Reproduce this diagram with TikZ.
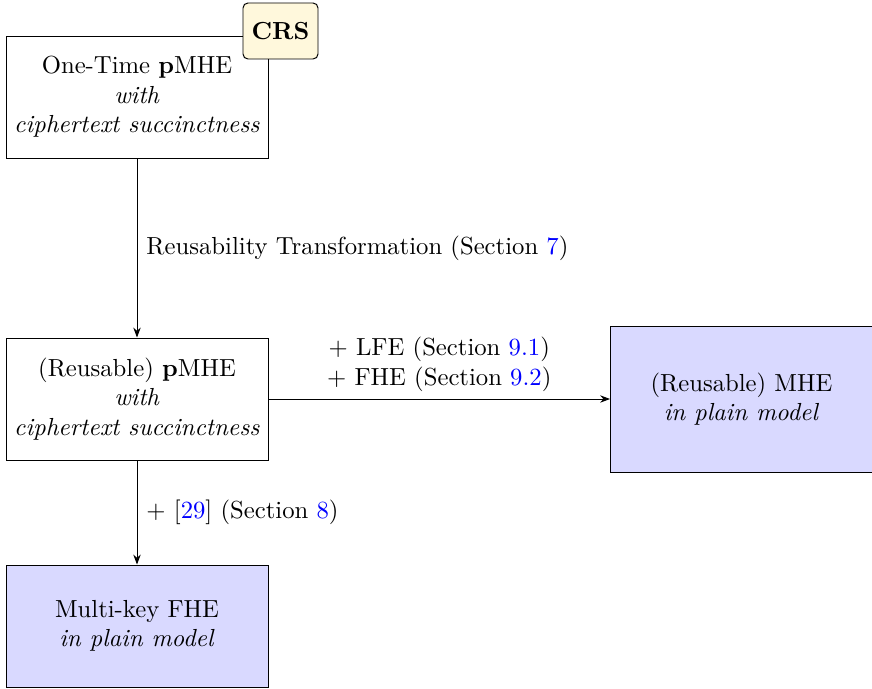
\documentclass[tikz,border=0pt]{standalone}
\usetikzlibrary{arrows.meta}
\definecolor{linkblue}{rgb}{0,0,1}
\definecolor{boxblue}{RGB}{217,217,255}
\definecolor{crsyellow}{RGB}{255,248,220}
\newcommand{\lnk}[1]{\textcolor{linkblue}{#1}}
\tikzset{
  box/.style={draw, line width=0.4pt, align=center, inner sep=0pt},
  plainbox/.style={box, minimum width={262*0.405pt}, minimum height={122*0.405pt}},
  goalbox/.style={box, fill=boxblue, minimum width={262*0.405pt}},
  crsbox/.style={draw, rounded corners=2pt, fill=crsyellow, font=\bfseries, minimum width={75*0.405pt}, minimum height={56*0.405pt}, inner sep=0pt},
  arr/.style={-{Stealth[length=4pt,width=3pt]}, line width=0.4pt},
  lbl/.style={align=center, inner sep=0pt}
}
\begin{document}
\begin{tikzpicture}[x=0.405pt,y=-0.405pt]
\useasboundingbox (0,0) rectangle (872,689);
\node[plainbox] (A) at (137,97) {One-Time \textbf{p}MHE\\ \textit{with}\\ \textit{ciphertext succinctness}};
\node[crsbox] (crs) at (280.5,31) {CRS};
\node[plainbox] (B) at (137,399) {(Reusable) \textbf{p}MHE\\ \textit{with}\\ \textit{ciphertext succinctness}};
\node[goalbox, minimum height={146*0.405pt}] (C) at (741.5,399) {(Reusable) MHE\\ \textit{in plain model}};
\node[goalbox, minimum height={122*0.405pt}] (D) at (137,626) {Multi-key FHE\\ \textit{in plain model}};
\draw[arr] (A) -- node[lbl, anchor=west, xshift={9*0.405pt}] {Reusability Transformation (Section \lnk{7})} (B);
\draw[arr] (B) -- node[lbl, anchor=south, yshift={7*0.405pt}] {+ LFE (Section \lnk{9.1})\\ + FHE (Section \lnk{9.2})} (C);
\draw[arr] (B) -- node[lbl, anchor=west, xshift={9*0.405pt}] {+ [\lnk{29}] (Section \lnk{8})} (D);
\end{tikzpicture}
\end{document}
